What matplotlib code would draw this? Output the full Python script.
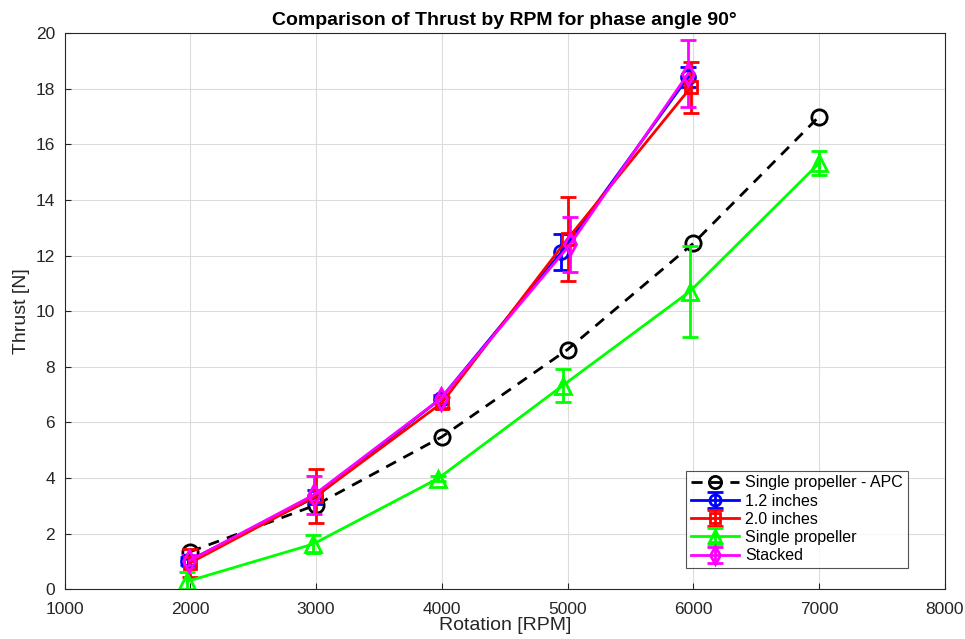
import matplotlib.pyplot as plt
import numpy as np

plt.rcParams['font.family'] = ['Liberation Sans', 'DejaVu Sans']

# Single propeller - APC (reference curve)
rpm_apc = [2000, 3000, 4000, 5000, 6000, 7000]
thrust_apc = [1.35, 3.03, 5.48, 8.62, 12.44, 17.0]

# 1.2 inches
rpm_12 = [1985, 2990, 3990, 4950, 5960]
thrust_12 = [1.02, 3.30, 6.85, 12.12, 18.43]
err_12 = [0.15, 0.25, 0.15, 0.65, 0.35]

# 2.0 inches
rpm_20 = [2000, 3000, 4000, 5000, 5980]
thrust_20 = [0.95, 3.35, 6.70, 12.60, 18.05]
err_20 = [0.50, 0.98, 0.20, 1.52, 0.92]

# Single propeller
rpm_single = [1975, 2975, 3970, 4960, 5970, 7000]
thrust_single = [0.28, 1.62, 3.98, 7.32, 10.70, 15.32]
err_single = [0.32, 0.33, 0.08, 0.60, 1.63, 0.43]

# Stacked
rpm_stacked = [1990, 2985, 3990, 5020, 5960]
thrust_stacked = [1.02, 3.40, 6.85, 12.40, 18.55]
err_stacked = [0.20, 0.68, 0.15, 1.00, 1.22]

fig, ax = plt.subplots(figsize=(9.65, 6.39), dpi=100)
fig.subplots_adjust(left=0.067, right=0.979, top=0.948, bottom=0.078)

lw = 2
eb = dict(mfc='none', mew=2, lw=lw, capsize=6, capthick=2, elinewidth=2)
ax.plot(rpm_apc, thrust_apc, 'k--', marker='o', mfc='none', ms=11, mew=2,
        lw=lw, dashes=(4, 3), label='Single propeller - APC')
ax.errorbar(rpm_12, thrust_12, yerr=err_12, color='#0000ff', marker='o', ms=10,
            label='1.2 inches', **eb)
ax.errorbar(rpm_20, thrust_20, yerr=err_20, color='#ff0000', marker='s', ms=9,
            label='2.0 inches', **eb)
ax.errorbar(rpm_single, thrust_single, yerr=err_single, color='#00ff00', marker='^',
            ms=11, label='Single propeller', **eb)
ax.errorbar(rpm_stacked, thrust_stacked, yerr=err_stacked, color='#ff00ff', marker='d',
            ms=11, label='Stacked', **eb)

ax.set_xlim(1000, 8000)
ax.set_ylim(0, 20)
ax.set_xticks(np.arange(1000, 8001, 1000))
ax.set_yticks(np.arange(0, 21, 2))
ax.grid(True, color='#dcdcdc', lw=0.8)
ax.set_axisbelow(True)
ax.tick_params(direction='in', labelsize=12.5, colors='#262626', length=4)
ax.tick_params(axis='x', pad=9)
ax.tick_params(axis='y', pad=7)
for s in ax.spines.values():
    s.set_color('#262626')
    s.set_linewidth(0.8)

ax.set_xlabel('Rotation [RPM]', fontsize=14, color='#262626', labelpad=0)
ax.set_ylabel('Thrust [N]', fontsize=14, color='#262626', labelpad=4)
ax.set_title('Comparison of Thrust by RPM for phase angle 90°', fontsize=14,
             fontweight='bold', color='black', pad=6)

leg = ax.legend(loc='lower right', bbox_to_anchor=(0.958, 0.038), borderaxespad=0,
                fontsize=11.5, frameon=True, fancybox=False, edgecolor='#262626',
                markerscale=0.8, handlelength=3, borderpad=0.3, labelspacing=0.2,
                handletextpad=0.4)
leg.get_frame().set_linewidth(0.8)

plt.savefig('out.png', dpi=100)
